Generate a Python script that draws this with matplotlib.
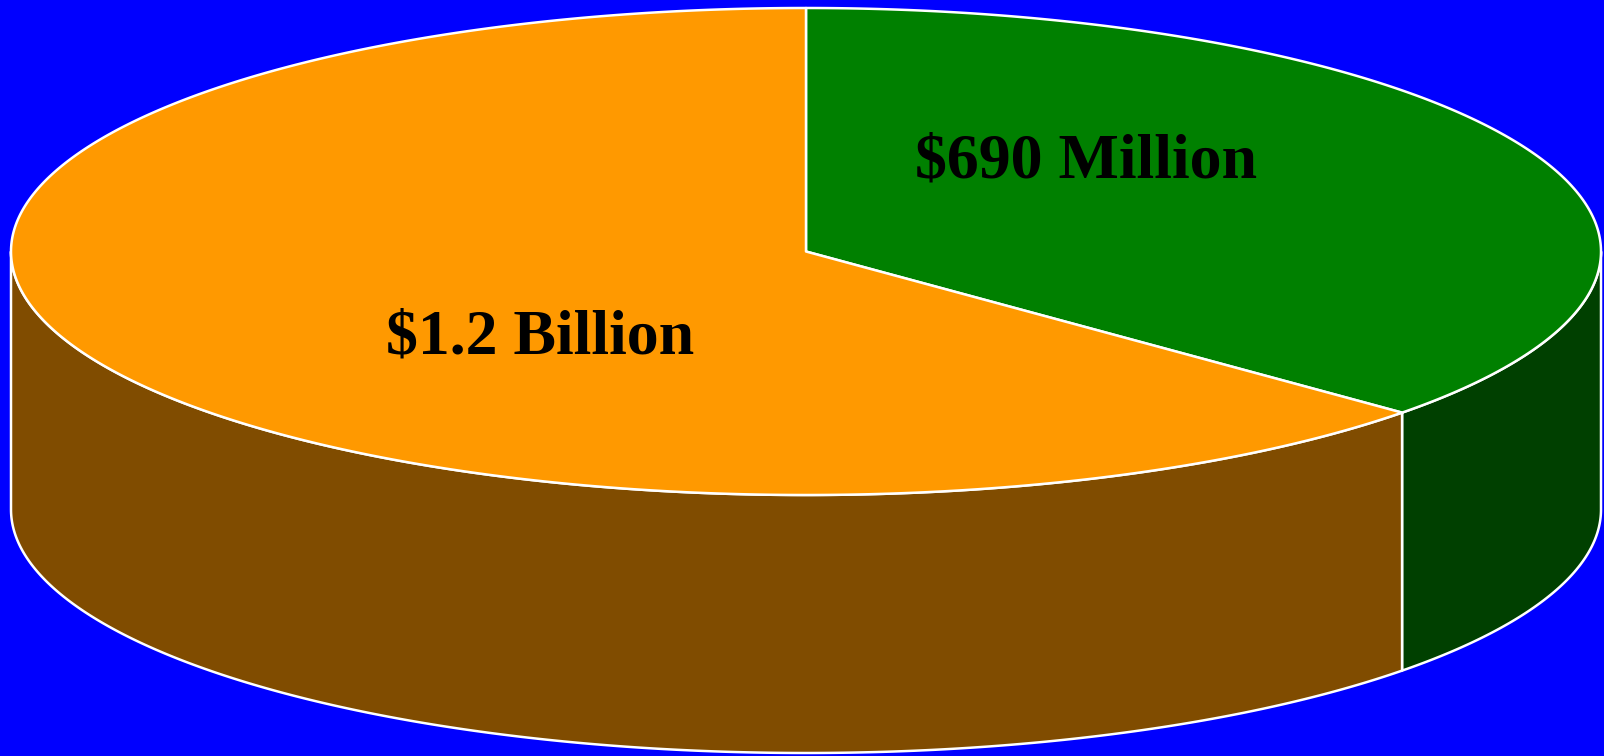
import numpy as np
import matplotlib
matplotlib.use("Agg")
import matplotlib.pyplot as plt

# Data
labels = ["$690 Million", "$1.2 Billion"]
values = [690, 1200]  # millions
top_colors = ["#008000", "#FF9900"]
side_colors = ["#004000", "#804C00"]

# Geometry (pixel coordinates)
W, H = 1604, 756
cx, cy = 806, 251.5
a, b = 795, 243.5
depth = 258

fig = plt.figure(figsize=(W / 100, H / 100), dpi=100)
fig.patch.set_facecolor("#0000FF")
ax = fig.add_axes([0, 0, 1, 1])
ax.set_xlim(0, W)
ax.set_ylim(H, 0)
ax.axis("off")
ax.set_facecolor("#0000FF")

def pt(t, dz=0.0):
    return cx + a * np.cos(t), cy - b * np.sin(t) + dz

total = float(sum(values))
# first slice goes clockwise from 12 o'clock
start = np.pi / 2
angles = []
cur = start
for v in values:
    span = 2 * np.pi * v / total
    angles.append((cur - span, cur))
    cur -= span

edge = dict(edgecolor="white", linewidth=1.8, joinstyle="round")

def side(t1, t2, color):
    ts = np.linspace(t1, t2, 300)
    xs, ys = pt(ts)
    xb, yb = pt(ts[::-1], depth)
    ax.fill(np.r_[xs, xb], np.r_[ys, yb], facecolor=color, zorder=1, **edge)

for (t1, t2), col in zip(angles, side_colors):
    lo = t1 % (2 * np.pi)
    hi = lo + (t2 - t1)
    for f0, f1 in [(np.pi, 2 * np.pi), (3 * np.pi, 4 * np.pi), (-np.pi, 0)]:
        s0, s1 = max(lo, f0), min(hi, f1)
        if s1 > s0:
            side(s0, s1, col)

# Top slices
for (t1, t2), col in zip(angles, top_colors):
    ts = np.linspace(t1, t2, 400)
    xs, ys = pt(ts)
    ax.fill(np.r_[cx, xs, cx], np.r_[cy, ys, cy], facecolor=col, zorder=2, **edge)

# Labels
label_pos = [(1086, 177), (540, 353)]
for lab, (x, y) in zip(labels, label_pos):
    ax.text(x, y, lab, ha="center", va="baseline", fontsize=46,
            fontweight="bold", family=["Liberation Serif", "DejaVu Serif"],
            color="black", zorder=3)

fig.savefig("out.png", dpi=100, facecolor=fig.get_facecolor())
